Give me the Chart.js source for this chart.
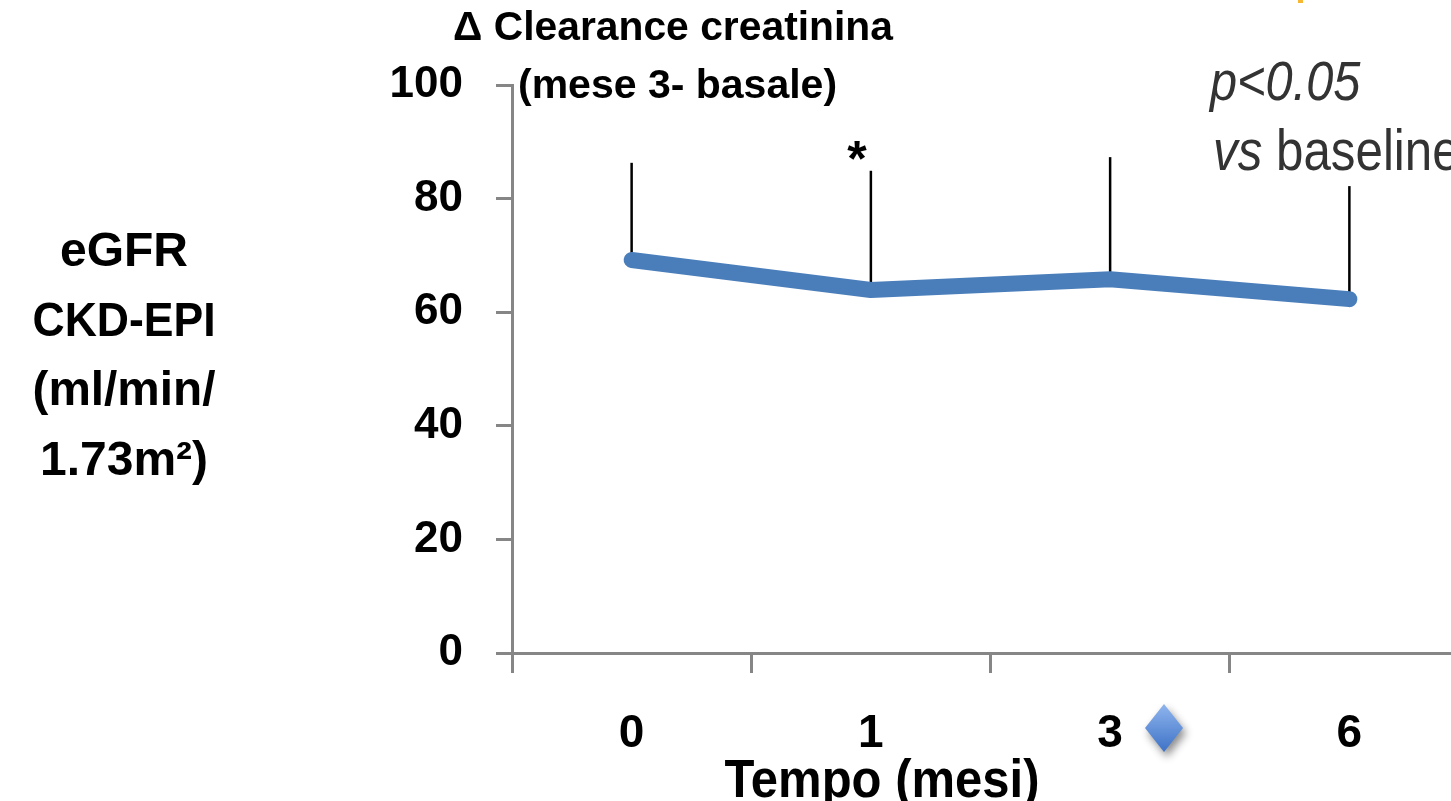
<!DOCTYPE html>
<html>
<head>
<meta charset="utf-8">
<script src="https://cdn.jsdelivr.net/npm/chart.js@4.4.1/dist/chart.umd.min.js"></script>
<style>
  html, body { margin: 0; padding: 0; background: #fff; overflow: hidden; }
  #wrap { width: 1470px; height: 801px; }
</style>
</head>
<body>
<div id="wrap"><canvas id="egfrChart" width="1470" height="801"></canvas></div>
<script>
// dati
const months = ['0', '1', '3', '6'];
const egfrMean = [69.2, 63.9, 65.8, 62.3];
const egfrUpper = [86.3, 84.9, 87.3, 82.2];   // estremo superiore barra d'errore
const yTickValues = [0, 20, 40, 60, 80, 100];
const starredMonths = ['1'];

const yTitleLines = ['eGFR', 'CKD-EPI', '(ml/min/', '1.73m\u00B2)'];

const AXIS_GREY = '#868686';
const LINE_BLUE = '#4a7ebb';
const TICK_FONT = "'Liberation Sans Narrow', 'Liberation Sans', Arial, sans-serif";
const SANS = "'Liberation Sans', Arial, sans-serif";

// barre d'errore (solo verso l'alto), disegnate sotto la linea
const errorBars = {
    id: 'errorBars',
    beforeDatasetsDraw(chart) {
        const { ctx, scales: { x, y } } = chart;
        ctx.save();
        ctx.strokeStyle = '#000';
        ctx.lineWidth = 2.5;
        months.forEach((m, i) => {
            const px = x.getPixelForValue(i);
            ctx.beginPath();
            ctx.moveTo(px, y.getPixelForValue(egfrMean[i]));
            ctx.lineTo(px, y.getPixelForValue(egfrUpper[i]));
            ctx.stroke();
        });
        ctx.restore();
    }
};

// testi e marcatore della legenda
const annotations = {
    id: 'annotations',
    afterDraw(chart) {
        const { ctx, scales: { x, y } } = chart;
        ctx.save();
        ctx.fillStyle = '#000';

        // titolo
        ctx.textAlign = 'center';
        ctx.textBaseline = 'alphabetic';
        ctx.font = 'bold 41px ' + SANS;
        ctx.fillText('\u0394 Clearance creatinina', 673, 40, 440);
        ctx.textAlign = 'left';
        ctx.fillText('(mese 3- basale)', 518, 98, 320);

        // titolo asse y
        ctx.textAlign = 'center';
        ctx.font = 'bold 48px ' + SANS;
        yTitleLines.forEach((t, i) => {
            ctx.fillText(t, 124, 266 + i * 69.5, 183);
        });

        // titolo asse x
        ctx.font = 'bold 54px ' + TICK_FONT;
        ctx.fillText('Tempo (mesi)', 882, 797, 315);

        // asterisco di significativit√†
        ctx.font = 'bold 50px ' + SANS;
        starredMonths.forEach(m => {
            const i = months.indexOf(m);
            const px = x.getPixelForValue(i) - 14;
            ctx.fillText('*', px, y.getPixelForValue(egfrUpper[i]) + 5);
        });

        // p<0.05 vs baseline
        ctx.fillStyle = '#333';
        ctx.textAlign = 'left';
        ctx.save();
        ctx.translate(1210, 100);
        ctx.scale(0.87, 1);
        ctx.font = 'italic 56px ' + SANS;
        ctx.fillText('p<0.05', 0, 0);
        ctx.restore();

        ctx.save();
        ctx.translate(1213, 170);
        ctx.scale(0.85, 1);
        ctx.font = 'italic 58px ' + SANS;
        ctx.fillText('vs', 0, 0);
        const w = ctx.measureText('vs ').width;
        ctx.font = '58px ' + SANS;
        ctx.fillText('baseline', w, 0);
        ctx.restore();

        // rombo della legenda
        const cx = 1164, cy = 728, hw = 19, hh = 24;
        ctx.save();
        ctx.shadowColor = 'rgba(0,0,0,0.45)';
        ctx.shadowBlur = 8;
        ctx.shadowOffsetX = 3;
        ctx.shadowOffsetY = 5;
        const g = ctx.createLinearGradient(cx, cy - hh, cx, cy + hh);
        g.addColorStop(0, '#8fb5ee');
        g.addColorStop(1, '#3d72c6');
        ctx.fillStyle = g;
        ctx.beginPath();
        ctx.moveTo(cx, cy - hh);
        ctx.lineTo(cx + hw, cy);
        ctx.lineTo(cx, cy + hh);
        ctx.lineTo(cx - hw, cy);
        ctx.closePath();
        ctx.fill();
        ctx.restore();

        // puntino arancione in alto
        ctx.fillStyle = '#f7b733';
        ctx.fillRect(1298, 0, 5, 3);

        ctx.restore();
    }
};

const ctx = document.getElementById('egfrChart').getContext('2d');
const egfrChart = new Chart(ctx, {
    type: 'line',
    data: {
        labels: months,
        datasets: [{
            label: 'eGFR',
            data: egfrMean,
            borderColor: LINE_BLUE,
            borderWidth: 16,
            borderCapStyle: 'round',
            borderJoinStyle: 'round',
            pointRadius: 0,
            tension: 0,
            fill: false
        }]
    },
    options: {
        responsive: false,
        animation: false,
        layout: { padding: { top: 85, left: 0, right: 1, bottom: 0 } },
        plugins: {
            legend: { display: false },
            tooltip: { enabled: false },
            title: { display: false }
        },
        scales: {
            x: {
                type: 'category',
                offset: true,
                afterFit: s => { s.height = 148; },
                border: { color: AXIS_GREY, width: 3 },
                grid: {
                    offset: true,
                    drawOnChartArea: false,
                    color: AXIS_GREY,
                    lineWidth: 3,
                    tickLength: 20
                },
                ticks: {
                    color: '#000',
                    padding: 34,
                    font: { family: TICK_FONT, size: 46, weight: 'bold' }
                }
            },
            y: {
                min: 0,
                max: 100,
                afterFit: s => { s.width = 512; },
                afterBuildTicks: s => { s.ticks = yTickValues.map(v => ({ value: v })); },
                border: { color: AXIS_GREY, width: 3 },
                grid: {
                    drawOnChartArea: false,
                    color: AXIS_GREY,
                    lineWidth: 3,
                    tickLength: 16
                },
                ticks: {
                    color: '#000',
                    padding: 33,
                    font: { family: TICK_FONT, size: 44, weight: 'bold' }
                }
            }
        }
    },
    plugins: [errorBars, annotations]
});
</script>
</body>
</html>
